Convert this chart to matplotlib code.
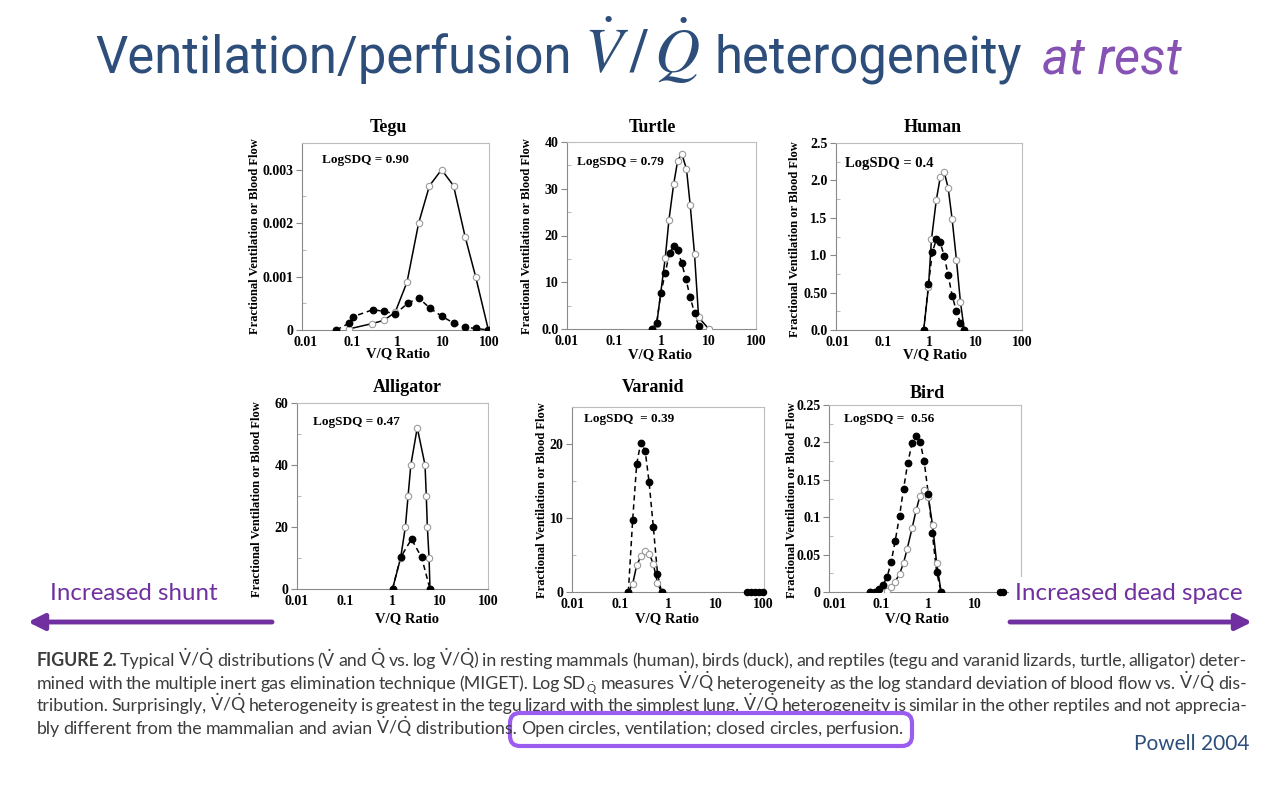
import matplotlib
matplotlib.use("Agg")
import matplotlib.pyplot as plt
from matplotlib.patches import FancyBboxPatch
from matplotlib.ticker import MultipleLocator, NullLocator

# ---- values (V/Q ratio, fraction) ----
tegu_vent_x = [0.087, 0.28, 0.50, 0.89, 1.62, 2.9, 5.0, 9.2, 16.8, 30, 51, 97]
tegu_vent_y = [0.00002, 0.00012, 0.00018, 0.00033, 0.0009, 0.0020, 0.0027, 0.0030, 0.0027, 0.00175, 0.0010, 0.0]
tegu_perf_x = [0.046, 0.087, 0.107, 0.29, 0.50, 0.89, 1.68, 2.9, 5.1, 9.2, 16.8, 30, 51, 97]
tegu_perf_y = [0.0, 0.000125, 0.00025, 0.00038, 0.00035, 0.0003, 0.0005, 0.0006, 0.00041, 0.00026, 0.00013, 0.00005, 0.00003, 0.0]

turtle_vent_x = [0.62, 0.79, 1.2, 1.44, 1.81, 2.2, 2.68, 3.38, 4.05, 5.0, 6.1, 10]
turtle_vent_y = [0, 1.0, 15.2, 23.4, 31, 36, 37.5, 34.2, 26.5, 16, 2.5, 0]
turtle_perf_x = [0.62, 0.79, 0.97, 1.2, 1.48, 1.81, 2.2, 2.68, 3.3, 4.05, 5.0, 6.1]
turtle_perf_y = [0, 1.3, 7.7, 12, 16.3, 17.7, 16.8, 14.1, 10.6, 6.8, 3.4, 0.7]

human_vent_x = [0.74, 0.94, 1.09, 1.39, 1.69, 2.06, 2.51, 3.06, 3.79, 4.62, 5.6]
human_vent_y = [0, 0.58, 1.21, 1.74, 2.04, 2.11, 1.9, 1.48, 0.94, 0.38, 0]
human_perf_x = [0.74, 0.94, 1.14, 1.39, 1.69, 2.06, 2.51, 3.06, 3.79, 4.62, 5.6]
human_perf_y = [0, 0.61, 1.04, 1.21, 1.17, 0.99, 0.73, 0.46, 0.25, 0.09, 0]

gator_vent_x = [1.0, 1.48, 1.86, 2.12, 2.42, 3.3, 4.8, 5.1, 5.37, 5.83, 6.1]
gator_vent_y = [0, 10, 20, 30, 40, 52, 40, 30, 20, 10, 0]
gator_perf_x = [1.0, 1.48, 2.5, 4.07, 6.1]
gator_perf_y = [0, 10.2, 16.1, 10.2, 0]

varanid_x = [0.146, 0.18, 0.219, 0.267, 0.33, 0.40, 0.49, 0.60, 0.73]
varanid_vent_y = [0, 1.1, 3.6, 4.8, 5.5, 5.2, 3.8, 1.2, 0]
varanid_perf_y = [0, 9.75, 17.3, 20.2, 19.1, 14.8, 8.8, 2.5, 0]
varanid_tail_x = [45, 56, 69, 83, 100]

bird_vent_x = [0.058, 0.087, 0.107, 0.133, 0.162, 0.198, 0.246, 0.30, 0.36, 0.456, 0.557, 0.68, 0.83, 1.02, 1.26, 1.54, 1.92]
bird_vent_y = [0, 0, 0.001, 0.002, 0.007, 0.014, 0.024, 0.039, 0.058, 0.085, 0.109, 0.129, 0.136, 0.127, 0.089, 0.039, 0]
bird_perf_x = [0.058, 0.072, 0.087, 0.107, 0.133, 0.162, 0.198, 0.246, 0.30, 0.368, 0.456, 0.557, 0.68, 0.83, 1.02, 1.24, 1.54, 1.92]
bird_perf_y = [0, 0, 0.0045, 0.009, 0.02, 0.04, 0.068, 0.102, 0.138, 0.172, 0.199, 0.209, 0.201, 0.175, 0.131, 0.079, 0.027, 0]
bird_tail_x = [35, 42]

x_ticks = [0.01, 0.1, 1, 10, 100]
x_ticklabels = ['0.01', '0.1', '1', '10', '100']

BLUE = '#2d4e7a'
VIOLET = '#8653b5'
PURPLE = '#7030a0'
CAP_GRAY = '#3c3c3c'
serif = 'Liberation Serif'
cap_font = 'Lato'

plt.rcParams['mathtext.fontset'] = 'custom'
plt.rcParams['mathtext.rm'] = cap_font
plt.rcParams['mathtext.it'] = cap_font + ':italic'
plt.rcParams['mathtext.bf'] = cap_font + ':bold'

W, H = 1280, 800
fig = plt.figure(figsize=(12.8, 8), dpi=100)


def px_axes(l, t, r, b):
    return fig.add_axes([l / W, 1 - b / H, (r - l) / W, (b - t) / H])


panels = [
    dict(name='Tegu', box=(302, 143, 489, 330), xlim=(0.0082, 100), ylim=(0, 0.0035),
         yticks=[0, 0.001, 0.002, 0.003], ylabels=['0', '0.001', '0.002', '0.003'], minor=0.0005,
         vent=(tegu_vent_x, tegu_vent_y), perf=(tegu_perf_x, tegu_perf_y),
         sdq='LogSDQ = 0.90', sdq_xy=(322, 160), title_xy=(388, 127), xlab_xy=(398, 354), ylab_xy=(255, 236)),
    dict(name='Turtle', box=(567, 142, 756, 329), xlim=(0.01, 100), ylim=(0, 40),
         yticks=[0, 10, 20, 30, 40], ylabels=['0.0', '10', '20', '30', '40'], minor=5,
         vent=(turtle_vent_x, turtle_vent_y), perf=(turtle_perf_x, turtle_perf_y),
         sdq='LogSDQ = 0.79', sdq_xy=(577, 162), title_xy=(652, 127), xlab_xy=(660, 355), ylab_xy=(527, 236)),
    dict(name='Human', box=(836, 143, 1022, 330), xlim=(0.0093, 100), ylim=(0, 2.5),
         yticks=[0, 0.5, 1.0, 1.5, 2.0, 2.5], ylabels=['0.0', '0.50', '1.0', '1.5', '2.0', '2.5'], minor=0.25,
         vent=(human_vent_x, human_vent_y), perf=(human_perf_x, human_perf_y),
         sdq='LogSDQ = 0.4', sdq_xy=(845, 163), title_xy=(933, 127), xlab_xy=(935, 355), ylab_xy=(795, 239)),
    dict(name='Alligator', box=(297, 403, 488, 589), xlim=(0.01, 100), ylim=(0, 60),
         yticks=[0, 20, 40, 60], ylabels=['0', '20', '40', '60'], minor=10,
         vent=(gator_vent_x, gator_vent_y), perf=(gator_perf_x, gator_perf_y),
         sdq='LogSDQ = 0.47', sdq_xy=(313, 422), title_xy=(407, 388), xlab_xy=(407, 619), ylab_xy=(257, 499)),
    dict(name='Varanid', box=(572, 407, 764, 592), xlim=(0.0095, 105), ylim=(0, 25),
         yticks=[0, 10, 20], ylabels=['0', '10', '20'], minor=5,
         vent=(varanid_x, varanid_vent_y), perf=(varanid_x, varanid_perf_y), tail=varanid_tail_x,
         sdq='LogSDQ  = 0.39', sdq_xy=(584, 419), title_xy=(653, 388), xlab_xy=(667, 619), ylab_xy=(542, 500)),
    dict(name='Bird', box=(829, 405, 1021, 592), xlim=(0.0075, 100), ylim=(0, 0.25),
         yticks=[0, 0.05, 0.1, 0.15, 0.2, 0.25], ylabels=['0', '0.05', '0.1', '0.15', '0.2', '0.25'], minor=0.025,
         vent=(bird_vent_x, bird_vent_y), perf=(bird_perf_x, bird_perf_y), tail=bird_tail_x,
         sdq='LogSDQ =  0.56', sdq_xy=(844, 419), title_xy=(927, 393), xlab_xy=(917, 619), ylab_xy=(792, 500)),
]

for p in panels:
    ax = px_axes(*p['box'])
    ax.set_xscale('log')
    vx, vy = p['vent']
    qx, qy = p['perf']
    ax.plot(vx, vy, '-', color='k', lw=1.1, zorder=2)
    ax.plot(qx, qy, color='k', lw=1.1, ls=(0, (3.5, 2.5)), zorder=2)
    ax.plot(vx, vy, 'o', ms=4.6, mfc='white', mec='#9a9a9a', mew=0.8, ls='none', zorder=3)
    ax.plot(qx, qy, 'o', ms=4.6, color='k', ls='none', zorder=4)
    if 'tail' in p:
        ax.plot(p['tail'], [0] * len(p['tail']), 'o-', color='k', ms=4.4, lw=1.5, zorder=4, clip_on=False)
    ax.set_xlim(*p['xlim'])
    ax.set_ylim(*p['ylim'])
    ax.set_xticks(x_ticks)
    ax.set_xticklabels(x_ticklabels)
    ax.xaxis.set_minor_locator(NullLocator())
    ax.set_yticks(p['yticks'])
    ax.set_yticklabels(p['ylabels'])
    ax.yaxis.set_minor_locator(MultipleLocator(p['minor']))
    ax.tick_params(axis='x', which='both', length=0, pad=4)
    ax.tick_params(axis='y', which='major', direction='out', length=4, width=0.8, color='#888888', pad=2)
    ax.tick_params(axis='y', which='minor', direction='in', length=3, width=0.8, color='#bbbbbb')
    for lab in ax.get_xticklabels() + ax.get_yticklabels():
        lab.set_fontfamily(serif)
        lab.set_fontweight('bold')
        lab.set_fontsize(10)
    for s in ax.spines.values():
        s.set_color('#bdbdbd')
        s.set_linewidth(0.8)
    ax.spines['left'].set_color('#8a8a8a')
    ax.spines['bottom'].set_color('#8a8a8a')

# overlay in pixel coordinates (y down) for all the slide text
ov = fig.add_axes([0, 0, 1, 1])
ov.set_xlim(0, W)
ov.set_ylim(H, 0)
ov.axis('off')
renderer = fig.canvas.get_renderer()


def width_of(t):
    return t.get_window_extent(renderer).width


for p in panels:
    ov.text(*p['title_xy'], p['name'], ha='center', va='center', family=serif, weight='bold', fontsize=13)
    ov.text(*p['xlab_xy'], 'V/Q Ratio', ha='center', va='center', family=serif, weight='bold', fontsize=10.5)
    ov.text(*p['ylab_xy'], 'Fractional Ventilation or Blood Flow', ha='center', va='center', rotation=90,
            family=serif, weight='bold', fontsize=9)
    ov.text(*p['sdq_xy'], p['sdq'], ha='left', va='center', family=serif, weight='bold',
            fontsize=10.5 if p['name'] == 'Human' else 9.5)

# title
title_runs = [
    ('Ventilation/perfusion', dict(family='Roboto', fontsize=36.5, color=BLUE), 12),
    (r'$\dot{V}\,/\,\dot{Q}$', dict(fontsize=45, math_fontfamily='stix', color=BLUE), 15),
    ('heterogeneity', dict(family='Roboto', fontsize=36.5, color=BLUE), 20),
    ('at rest', dict(family='Roboto', fontsize=36.5, color=VIOLET, style='italic'), 0),
]
x = 95
for txt, kw, gap in title_runs:
    t = ov.text(x, 73, txt, ha='left', va='baseline', **kw)
    x += width_of(t) + gap

# side notes and arrows
ov.text(50, 593, 'Increased shunt', family='Lato', fontsize=17.3, color=PURPLE, ha='left', va='center')
ov.text(1015, 593, 'Increased dead space', family='Lato', fontsize=17.5, color=PURPLE, ha='left', va='center',
        bbox=dict(fc='white', ec='none', pad=4))
ov.annotate('', xy=(28, 622), xytext=(272, 622),
            arrowprops=dict(arrowstyle='-|>', lw=3.5, color=PURPLE, mutation_scale=24, shrinkA=0, shrinkB=0))
ov.annotate('', xy=(1252, 622), xytext=(1010, 622),
            arrowprops=dict(arrowstyle='-|>', lw=3.5, color=PURPLE, mutation_scale=24, shrinkA=0, shrinkB=0))

# caption, justified word by word ('|' marks a subscript)
Vd = r'$\dot{\mathrm{V}}$'
Qd = r'$\dot{\mathrm{Q}}$'
VQ = r'$\dot{\mathrm{V}}/\dot{\mathrm{Q}}$'
cap_lines = [
    f'FIGURE 2. Typical {VQ} distributions ({Vd} and {Qd} vs. log {VQ}) in resting mammals (human), birds (duck), '
    'and reptiles (tegu and varanid lizards, turtle, alligator) deter-',
    f'mined with the multiple inert gas elimination technique (MIGET). Log SD|{Qd}  measures {VQ} heterogeneity '
    f'as the log standard deviation of blood flow vs. {VQ} dis-',
    f'tribution. Surprisingly, {VQ} heterogeneity is greatest in the tegu lizard with the simplest lung. {VQ} '
    'heterogeneity is similar in the other reptiles and not apprecia-',
    f'bly different from the mammalian and avian {VQ} distributions. Open circles, ventilation; closed circles, perfusion.',
]
cap_y = [666, 689, 711, 734]
cap_end = [1247, 1247, 1247, 904]
X0 = 37
CAP_SIZE = 12.8


def caption_line(line, y, x1, z):
    items = []
    for i, w in enumerate(line.split(' ')):
        if not w:
            continue
        if '|' in w:
            main, sub = w.split('|')
            runs = [(main, CAP_SIZE, 'normal', 0), (sub, CAP_SIZE * 0.65, 'normal', 4)]
        else:
            bold = line.startswith('FIGURE') and i < 2
            runs = [(w, CAP_SIZE, 'bold' if bold else 'normal', 0)]
        arts, wx = [], 0
        for txt, size, weight, dy in runs:
            t = ov.text(0, y + dy, txt, ha='left', va='baseline', family=cap_font, fontsize=size,
                        weight=weight, color=CAP_GRAY, zorder=z)
            arts.append((t, wx))
            wx += width_of(t) + (1 if dy else 0)
        items.append((arts, wx))
    total = sum(wx for _, wx in items)
    gap = (x1 - X0 - total) / (len(items) - 1)
    xx = X0
    for arts, wx in items:
        for t, off in arts:
            t.set_x(xx + off)
        xx += wx + gap


for k, (line, y, x1) in enumerate(zip(cap_lines, cap_y, cap_end)):
    caption_line(line, y, x1, z=6 if k == 3 else 3)

box = FancyBboxPatch((510, 713), 402, 33, boxstyle='round,pad=0,rounding_size=10',
                     fc='white', ec='#9b5cf0', lw=3, zorder=5)
ov.add_patch(box)

ov.text(1250, 744, 'Powell 2004', family='Lato', fontsize=15, color=BLUE, ha='right', va='center')

fig.savefig('out.png', dpi=100)
